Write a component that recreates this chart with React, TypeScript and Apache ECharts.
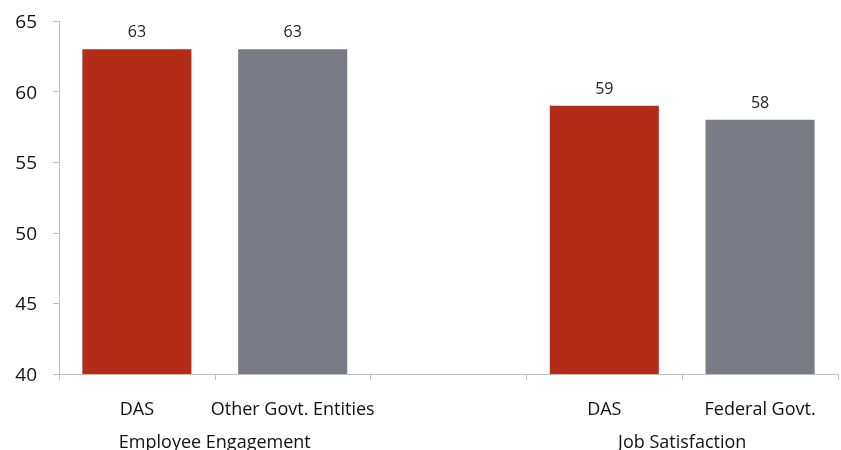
import React, { useEffect, useRef } from "react";
import * as echarts from "echarts";

const categories = ["DAS", "Other Govt. Entities", "", "DAS", "Federal Govt."];
const values: (number | null)[] = [63, 63, null, 59, 58];
const groups = [
  { label: "Employee Engagement", start: 0, span: 2 },
  { label: "Job Satisfaction", start: 3, span: 2 },
];
const yTicks = { min: 40, max: 65, interval: 5 };

const RED = "#B22C18";
const GRAY = "#797C85";
const FONT = "Open Sans";

export default function App() {
  const ref = useRef<HTMLDivElement>(null);
  useEffect(() => {
    if (!ref.current) return;
    const chart = echarts.init(ref.current, null, { renderer: "svg" });
    chart.setOption({
      animation: false,
      grid: { left: 59, right: 2, top: 21, bottom: 74, containLabel: false },
      xAxis: [
        {
          type: "category",
          data: categories,
          axisLine: { lineStyle: { color: "#BFBFBF", width: 1 } },
          axisTick: { show: true, length: 6, lineStyle: { color: "#BFBFBF" } },
          axisLabel: {
            interval: 0,
            margin: 25,
            fontFamily: FONT,
            fontSize: 18,
            color: "#111",
          },
        },
        {
          type: "value",
          position: "bottom",
          min: 0,
          max: categories.length,
          interval: 1,
          axisLine: { show: false },
          axisTick: { show: false },
          splitLine: { show: false },
          axisLabel: {
            margin: 58,
            fontFamily: FONT,
            fontSize: 18,
            color: "#111",
            showMinLabel: true,
            showMaxLabel: true,
            formatter: (v: number) => {
              const g = groups.find((gr) => Math.abs(gr.start + gr.span / 2 - v) < 1e-6);
              return g ? g.label : "";
            },
          },
        },
      ],
      yAxis: {
        type: "value",
        min: yTicks.min,
        max: yTicks.max,
        interval: yTicks.interval,
        axisLine: { show: true, lineStyle: { color: "#BFBFBF", width: 1 } },
        axisTick: { show: true, length: 6, lineStyle: { color: "#BFBFBF" } },
        splitLine: { show: false },
        axisLabel: {
          margin: 22,
          fontFamily: FONT,
          fontSize: 19,
          color: "#111",
        },
      },
      series: [
        {
          type: "bar",
          xAxisIndex: 0,
          data: values,
          barWidth: "70%",
          itemStyle: {
            color: (p: any) => (p.name === "DAS" ? RED : GRAY),
          },
          label: {
            show: true,
            position: "top",
            distance: 10,
            fontFamily: FONT,
            fontSize: 16,
            color: "#222",
          },
        },
      ],
    });
    return () => chart.dispose();
  }, []);
  return (
    <div
      ref={ref}
      style={{ position: "fixed", left: 0, top: 0, width: 841, height: 450 }}
    />
  );
}
